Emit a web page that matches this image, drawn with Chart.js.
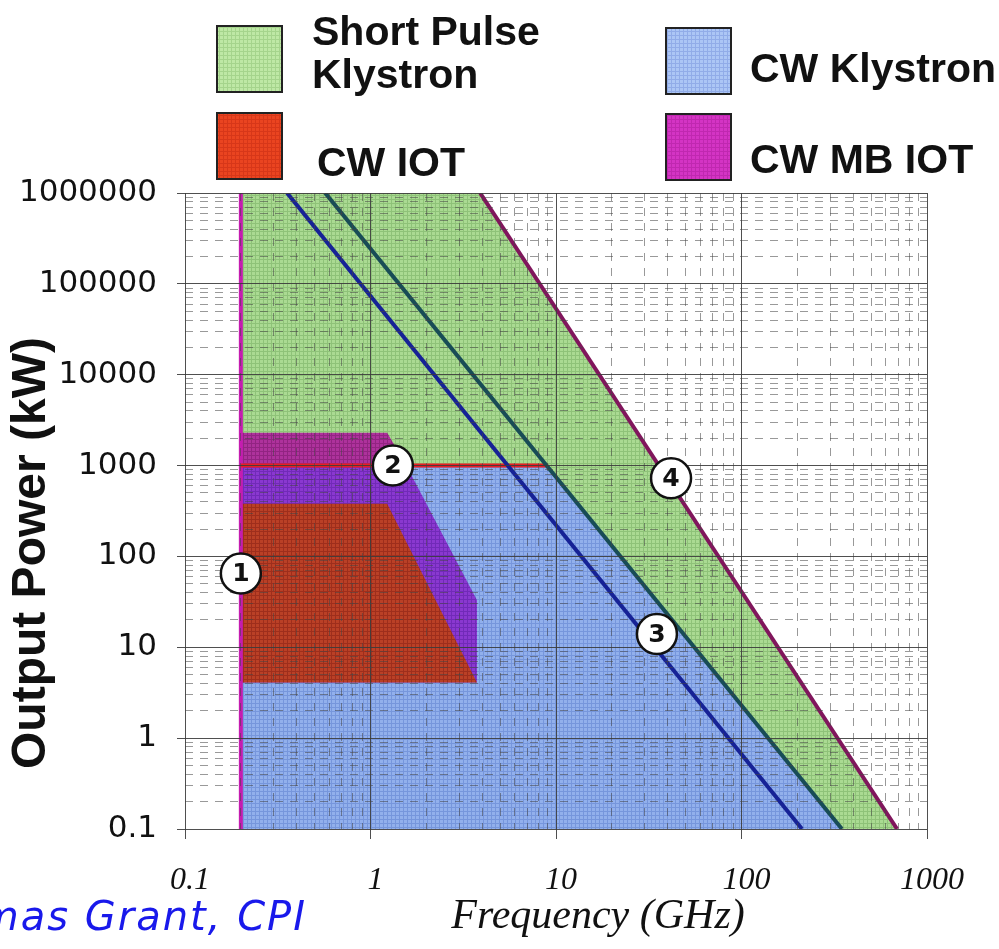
<!DOCTYPE html>
<html>
<head>
<meta charset="utf-8">
<script src="https://cdn.jsdelivr.net/npm/chart.js@4.4.1/dist/chart.umd.min.js"></script>
<style>
  html, body { margin: 0; padding: 0; background: #ffffff; }
  #wrap { width: 999px; height: 949px; position: relative; }
</style>
</head>
<body>
<div id="wrap"><canvas id="c" width="999" height="949"></canvas></div>
<script>
// ---------------- data ----------------
const xTickValues = [0.1, 1, 10, 100, 1000];
const xTickLabels = ['0.1', '1', '10', '100', '1000'];
const yTickValues = [0.1, 1, 10, 100, 1000, 10000, 100000, 1000000];
const yTickLabels = ['0.1', '1', '10', '100', '1000', '10000', '100000', '1000000'];

// regions: [frequency GHz, power kW] polygon vertices
const shortPulseKlystron = [[0.2, 0.1], [0.2, 1000000], [3.9, 1000000], [690, 0.1]];
const cwKlystron = [[0.2, 0.1], [0.2, 1000], [8.9, 1000], [348, 0.1]];
const cwMbIotAbove = [[0.2, 1000], [0.2, 2300], [1.23, 2300], [1.56, 1000]];
const cwMbIotBelow = [[0.2, 4.1], [0.2, 1000], [1.56, 1000], [3.75, 33], [3.75, 4.1]];
const cwIot = [[0.2, 4.1], [0.2, 380], [1.23, 380], [3.75, 4.1]];

// boundary lines
const line1 = [[0.2, 0.1], [0.2, 1000000]];
const line2 = [[0.2, 1000], [9.0, 1000]];
const line3 = [[0.355, 1000000], [212, 0.1]];
const lineCw = [[0.57, 1000000], [348, 0.1]];
const line4 = [[3.9, 1000000], [690, 0.1]];

// numbered markers
const markerLabels = ['1', '2', '3', '4'];
const markerFreq = [0.2, 1.32, 35, 41.7];
const markerPower = [65, 1000, 14, 727];

// legend
const legendLabels = [['Short Pulse', 'Klystron'], ['CW IOT'], ['CW Klystron'], ['CW MB IOT']];

// ---------------- helpers ----------------
function pts(a) { return a.map(p => ({x: p[0], y: p[1]})); }
function makePattern(base, line) {
  const c = document.createElement('canvas');
  c.width = 4; c.height = 4;
  const g = c.getContext('2d');
  g.fillStyle = base; g.fillRect(0, 0, 4, 4);
  g.fillStyle = line; g.fillRect(0, 3, 4, 1); g.fillRect(3, 0, 1, 4);
  return g.createPattern(c, 'repeat');
}
function isMajor(v) {
  if (v === undefined || v === null) return true;
  const l = Math.log10(v);
  return Math.abs(l - Math.round(l)) < 1e-6;
}
function buildMinor(values) {
  const out = [];
  for (let i = 0; i < values.length; i++) {
    out.push(values[i]);
    if (i < values.length - 1) {
      for (let m = 2; m <= 9; m++) out.push(+(values[i] * m).toPrecision(6));
    }
  }
  return out;
}

const patGreen = makePattern('rgb(170,218,146)', 'rgb(142,194,120)');
const patBlue = makePattern('rgb(146,176,236)', 'rgb(118,150,220)');
const patRed = makePattern('rgb(186,64,38)', 'rgb(158,46,28)');
const patMagUp = makePattern('rgb(174,50,156)', 'rgb(146,36,130)');
const patMagLow = makePattern('rgb(138,56,208)', 'rgb(113,42,184)');
const patLegGreen = makePattern('rgb(190,232,165)', 'rgb(165,212,140)');
const patLegBlue = makePattern('rgb(172,198,245)', 'rgb(145,172,232)');
const patLegRed = makePattern('rgb(234,68,32)', 'rgb(215,55,25)');
const patLegMag = makePattern('rgb(212,52,196)', 'rgb(192,40,176)');

function region(data, pat, order) {
  return { type: 'line', data: pts(data), fill: 'shape', backgroundColor: pat,
           borderWidth: 0, borderColor: 'rgba(0,0,0,0)', pointRadius: 0, tension: 0, order: order };
}
function bline(data, color, order) {
  return { type: 'line', data: pts(data), fill: false, borderColor: color,
           borderWidth: 4, pointRadius: 0, tension: 0, order: order };
}

const overlay = {
  id: 'overlay',
  afterDraw(chart) {
    const ctx = chart.ctx;
    const xs = chart.scales.x, ys = chart.scales.y;
    ctx.save();
    // numbered circles
    for (let i = 0; i < markerLabels.length; i++) {
      const px = xs.getPixelForValue(markerFreq[i]);
      const py = ys.getPixelForValue(markerPower[i]);
      ctx.beginPath();
      ctx.arc(px, py, 20, 0, Math.PI * 2);
      ctx.fillStyle = '#ffffff';
      ctx.fill();
      ctx.lineWidth = 2.5;
      ctx.strokeStyle = '#111111';
      ctx.stroke();
      ctx.fillStyle = '#111111';
      ctx.font = 'bold 25px "DejaVu Sans"';
      ctx.textAlign = 'center';
      ctx.textBaseline = 'middle';
      ctx.fillText(markerLabels[i], px, py + 1);
    }
    // legend
    const boxes = [
      {x: 217, y: 26, pat: patLegGreen, tx: 312, ty: [45, 88]},
      {x: 217, y: 113, pat: patLegRed, tx: 317, ty: [176]},
      {x: 666, y: 28, pat: patLegBlue, tx: 750, ty: [82]},
      {x: 666, y: 114, pat: patLegMag, tx: 750, ty: [173]}
    ];
    boxes.forEach((b, i) => {
      ctx.fillStyle = b.pat;
      ctx.fillRect(b.x, b.y, 65, 66);
      ctx.lineWidth = 2;
      ctx.strokeStyle = '#222222';
      ctx.strokeRect(b.x, b.y, 65, 66);
      ctx.fillStyle = '#111111';
      ctx.font = 'bold 41px "Liberation Sans"';
      ctx.textAlign = 'left';
      ctx.textBaseline = 'alphabetic';
      legendLabels[i].forEach((t, k) => ctx.fillText(t, b.tx, b.ty[k]));
    });
    // axis titles
    ctx.fillStyle = '#111111';
    ctx.font = 'italic 42px "Liberation Serif"';
    ctx.textAlign = 'center';
    ctx.textBaseline = 'alphabetic';
    ctx.fillText('Frequency (GHz)', 598, 928);
    ctx.save();
    ctx.translate(45, 553);
    ctx.rotate(-Math.PI / 2);
    ctx.font = 'bold 48px "Liberation Sans"';
    ctx.fillText('Output Power (kW)', 0, 0);
    ctx.restore();
    // credit
    ctx.fillStyle = 'rgb(25,25,235)';
    ctx.font = 'oblique 40px "DejaVu Sans"';
    try { ctx.letterSpacing = '2px'; } catch (e) {}
    ctx.textAlign = 'right';
    ctx.fillText('Thomas Grant, CPI', 307, 930);
    ctx.restore();
  }
};

const gridColor = (c) => isMajor(c.tick && c.tick.value) ? 'rgba(60,60,60,0.9)' : 'rgba(70,70,70,0.55)';
const dash = (c) => isMajor(c.tick && c.tick.value) ? [] : [8, 7];
const tickCol = (c) => isMajor(c.tick && c.tick.value) ? 'rgba(60,60,60,0.9)' : 'rgba(0,0,0,0)';

new Chart(document.getElementById('c'), {
  type: 'line',
  data: {
    datasets: [
      bline(line4, 'rgb(128,22,92)', 1),
      bline(lineCw, 'rgb(24,76,86)', 2),
      bline(line3, 'rgb(22,34,150)', 3),
      bline(line2, 'rgb(232,30,36)', 4),
      bline(line1, 'rgb(196,28,176)', 5),
      region(cwIot, patRed, 6),
      region(cwMbIotBelow, patMagLow, 7),
      region(cwMbIotAbove, patMagUp, 8),
      region(cwKlystron, patBlue, 9),
      region(shortPulseKlystron, patGreen, 10)
    ]
  },
  options: {
    responsive: false,
    animation: false,
    devicePixelRatio: 1,
    layout: { padding: { left: 0, top: 193, right: 72, bottom: 0 } },
    plugins: { legend: { display: false }, tooltip: { enabled: false } },
    scales: {
      x: {
        type: 'logarithmic', min: 0.1, max: 1000,
        afterBuildTicks: (s) => { s.ticks = buildMinor(xTickValues).map(v => ({value: v})); },
        afterFit: (s) => { s.height = 120; },
        ticks: {
          autoSkip: false, maxRotation: 0, padding: 22, labelOffset: 5, color: '#111111',
          font: { family: 'Liberation Serif', style: 'italic', size: 32 },
          callback: (v) => { const i = xTickValues.findIndex(t => Math.abs(t - v) < 1e-9); return i >= 0 ? xTickLabels[i] : ''; }
        },
        grid: { z: 1, color: gridColor, lineWidth: 1, tickLength: 10, tickColor: tickCol },
        border: { display: false, dash: dash }
      },
      y: {
        type: 'logarithmic', min: 0.1, max: 1000000,
        afterBuildTicks: (s) => { s.ticks = buildMinor(yTickValues).map(v => ({value: v})); },
        afterFit: (s) => { s.width = 185; },
        ticks: {
          autoSkip: false, padding: 20, color: '#111111',
          font: { family: 'DejaVu Sans', size: 31 },
          callback: (v) => { const i = yTickValues.findIndex(t => Math.abs(t - v) / t < 1e-9); return i >= 0 ? yTickLabels[i] : ''; }
        },
        grid: { z: 1, color: gridColor, lineWidth: 1, tickLength: 8, tickColor: tickCol },
        border: { display: false, dash: dash }
      }
    }
  },
  plugins: [overlay]
});
</script>
</body>
</html>
